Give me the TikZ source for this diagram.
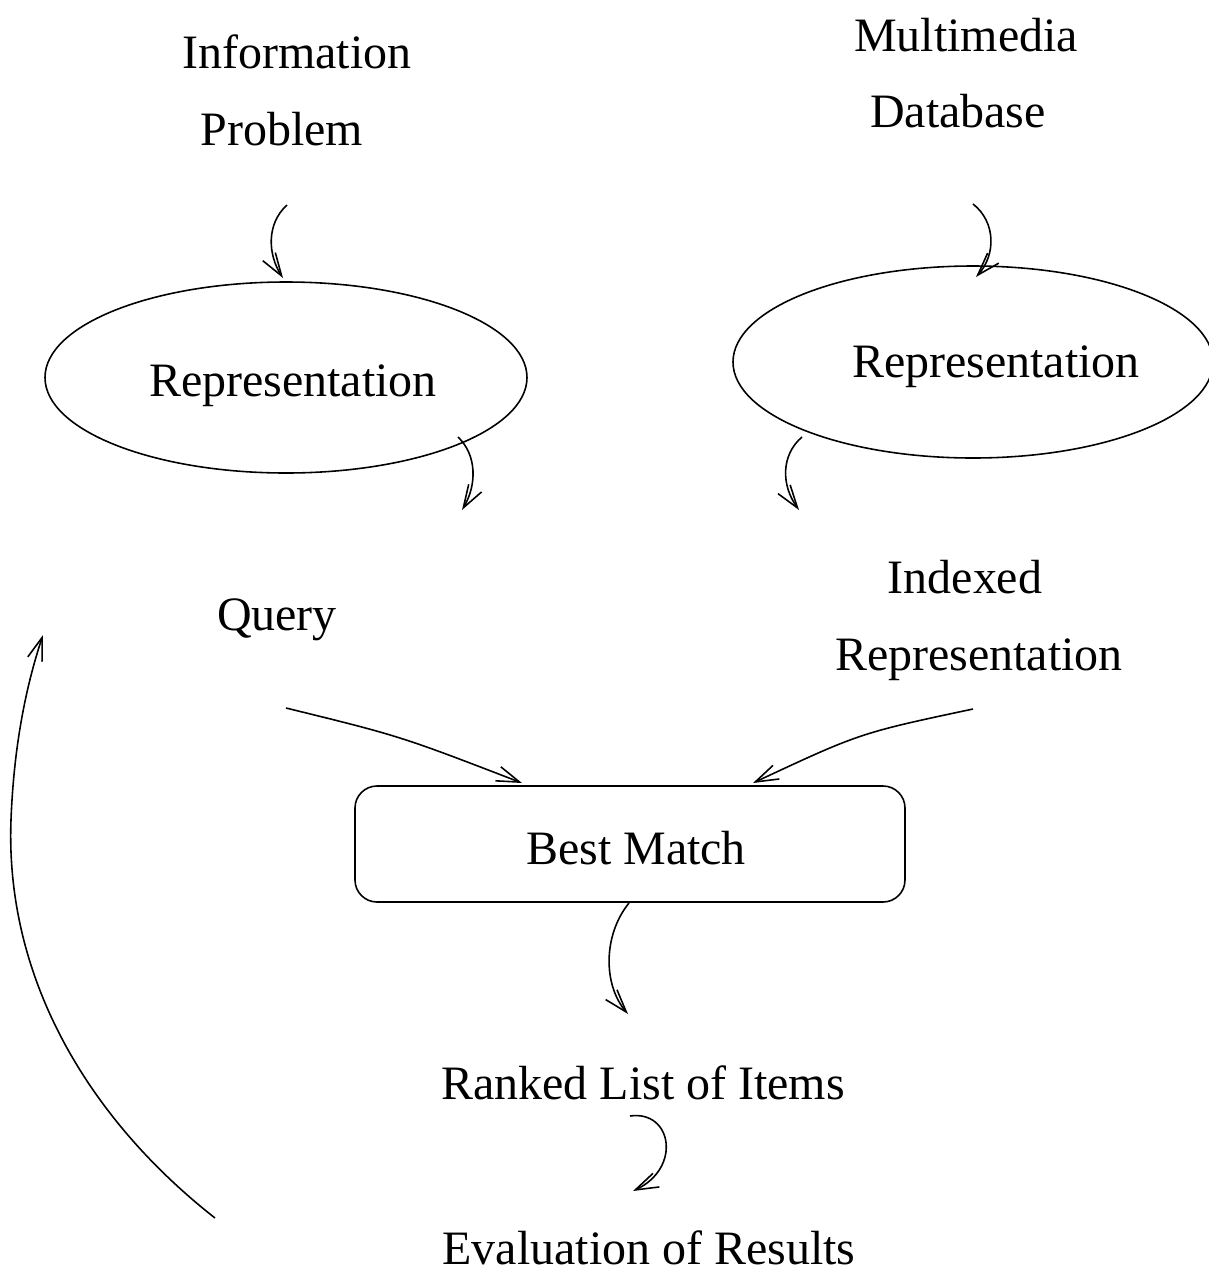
\documentclass[tikz,border=0pt]{standalone}
\usepackage{fontspec}
\setmainfont{Liberation Serif}
\usetikzlibrary{arrows.meta}
\begin{document}
\begin{tikzpicture}[x=0.02cm,y=-0.02cm,
  lbl/.style={anchor=base,inner sep=0pt,font=\fontsize{27.3}{32}\selectfont},
  flow/.style={line width=0.9pt,-{Straight Barb[length=0.46cm,width=0.3cm,line width=0.9pt]}},
  oval/.style={line width=0.9pt}]
\useasboundingbox (0,0) rectangle (1209,1275);

% labels
\node[lbl] (info1) at (297,68)  {Information};
\node[lbl] (info2) at (282,145) {Problem};
\node[lbl] (mm1)   at (966,51)  {Multimedia};
\node[lbl] (mm2)   at (958,127) {Database};
\node[lbl] (repL)  at (293,396) {Representation};
\node[lbl] (repR)  at (996,377) {Representation};
\node[lbl] (query) at (277,630) {Query};
\node[lbl] (idx1)  at (965,593) {Indexed};
\node[lbl] (idx2)  at (979,670) {Representation};
\node[lbl] (best)  at (636,864) {Best Match};
\node[lbl] (ranked) at (643,1099) {Ranked List of Items};
\node[lbl] (evalr) at (649,1264) {Evaluation of Results};

% representation ovals and match box
\draw[oval] (286,377.5) ellipse [x radius=241, y radius=95.5];
\draw[oval] (973,362) ellipse [x radius=240, y radius=96];
\draw[oval,rounded corners=0.44cm] (355,786) rectangle (905,902);

% arrow end points
\coordinate (a1s) at (287,205);  \coordinate (a1e) at (283,278);
\coordinate (a2s) at (458,437);  \coordinate (a2e) at (462,510);
\coordinate (a3s) at (802,437);  \coordinate (a3e) at (799,510);
\coordinate (a4s) at (973,204);  \coordinate (a4e) at (976,277);
\coordinate (qs)  at (286,708);  \coordinate (qe)  at (522,783);
\coordinate (is)  at (973,709);  \coordinate (ie)  at (753,783);
\coordinate (bs)  at (629,903);  \coordinate (be)  at (628,1014);
\coordinate (rs)  at (630,1116); \coordinate (re)  at (633,1191);
\coordinate (fs)  at (215,1218); \coordinate (fe)  at (43,635);

% flow arrows
\draw[flow] (a1s) .. controls (266,224) and (268,255) .. (a1e);
\draw[flow] (a2s) .. controls (477,455) and (477,485) .. (a2e);
\draw[flow] (a3s) .. controls (781,455) and (781,485) .. (a3e);
\draw[flow] (a4s) .. controls (996,222) and (996,255) .. (a4e);
\draw[flow] (qs) .. controls (400,736) .. (qe);
\draw[flow] (is) .. controls (860,733) .. (ie);
\draw[flow] (bs) .. controls (603,935) and (603,985) .. (be);
\draw[flow] (rs) .. controls (672,1110) and (682,1168) .. (re);
\draw[flow] (fs) .. controls (90,1120) and (5,980) .. (11,820)
                 .. controls (14,740) and (28,680) .. (fe);
\end{tikzpicture}
\end{document}
